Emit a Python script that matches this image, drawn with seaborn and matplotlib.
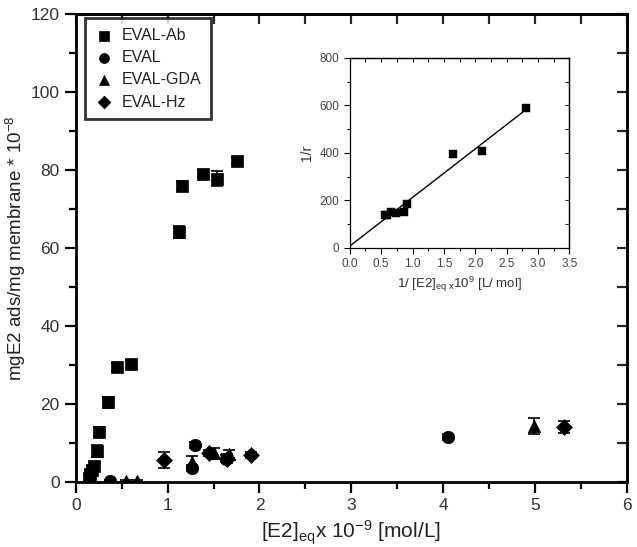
import numpy as np
import pandas as pd
import matplotlib
matplotlib.use("Agg")
import matplotlib.pyplot as plt
import seaborn as sns
from matplotlib.ticker import MultipleLocator

sns.set_theme(style="ticks")
plt.rcParams['font.family'] = ['Liberation Sans', 'DejaVu Sans']
plt.rcParams['mathtext.fontset'] = 'custom'
plt.rcParams['mathtext.rm'] = 'Liberation Sans'
plt.rcParams['mathtext.it'] = 'Liberation Sans'

# ---- main data ----
ab_x = [0.14, 0.16, 0.18, 0.20, 0.23, 0.25, 0.35, 0.45, 0.60, 1.12, 1.16, 1.38, 1.54, 1.76]
ab_y = [1.0, 2.0, 3.0, 4.0, 8.0, 12.9, 20.4, 29.4, 30.3, 64.2, 76.0, 79.0, 77.8, 82.3]
ab_e = [0.8, 0.8, 1.0, 1.0, 1.5, 1.2, 1.5, 1.0, 1.0, 1.5, 1.2, 1.0, 2.0, 0.8]

ev_x = [0.37, 1.27, 1.30, 1.64, 4.05]
ev_y = [0.3, 3.5, 9.5, 6.0, 11.5]
ev_e = [0.3, 0.8, 0.8, 1.0, 0.8]

gda_x = [0.55, 0.67, 1.27, 1.50, 1.67, 4.99]
gda_y = [0.3, 0.3, 5.2, 7.3, 7.1, 14.4]
gda_e = [0.2, 0.2, 1.5, 1.5, 1.0, 2.0]

hz_x = [0.96, 1.45, 1.65, 1.91, 5.32]
hz_y = [5.6, 7.5, 6.0, 6.9, 14.0]
hz_e = [2.0, 0.8, 1.2, 0.8, 1.5]

series_names = ["EVAL-Ab", "EVAL", "EVAL-GDA", "EVAL-Hz"]

# ---- inset data ----
inv_x = [0.56, 0.59, 0.66, 0.73, 0.86, 0.91, 1.65, 2.11, 2.80]
inv_y = [140, 140, 150, 145, 152, 184, 396, 407, 589]
fit_intercept = 7.0
fit_slope = 205.0
fit_xmax = 2.8

frames = []
for name, xs, ys in zip(series_names, [ab_x, ev_x, gda_x, hz_x], [ab_y, ev_y, gda_y, hz_y]):
    frames.append(pd.DataFrame({"x": xs, "y": ys, "series": name}))
df = pd.concat(frames, ignore_index=True)

fig = plt.figure(figsize=(6.37, 5.47), dpi=100)
ax = fig.add_axes([0.119, 0.119, 0.865, 0.855])

for xs, ys, es in [(ab_x, ab_y, ab_e), (ev_x, ev_y, ev_e), (gda_x, gda_y, gda_e), (hz_x, hz_y, hz_e)]:
    ax.errorbar(xs, ys, yerr=es, fmt="none", ecolor="black", elinewidth=1.2, capsize=4, capthick=1.2, zorder=2)

markers = {"EVAL-Ab": "s", "EVAL": "o", "EVAL-GDA": "^", "EVAL-Hz": "D"}
sizes_map = {"EVAL-Ab": 80, "EVAL": 80, "EVAL-GDA": 80, "EVAL-Hz": 65}
for name in series_names:
    sub = df[df.series == name]
    sns.scatterplot(data=sub, x="x", y="y", marker=markers[name], s=sizes_map[name],
                    color="black", edgecolor="black", linewidth=0.5, ax=ax, label=name, zorder=3)

ax.set_xlim(0, 6)
ax.set_ylim(0, 120)
ax.xaxis.set_major_locator(MultipleLocator(1))
ax.xaxis.set_minor_locator(MultipleLocator(0.5))
ax.yaxis.set_major_locator(MultipleLocator(20))
ax.yaxis.set_minor_locator(MultipleLocator(10))
for s in ax.spines.values():
    s.set_linewidth(2.0)
    s.set_color("black")
    s.set_visible(True)
ax.tick_params(which="both", direction="out", width=1.6, colors="black", labelsize=12.5)
ax.tick_params(which="major", length=8)
ax.tick_params(which="minor", length=5)
secx = ax.secondary_xaxis("top")
secx.xaxis.set_major_locator(MultipleLocator(0.5))
secx.tick_params(direction="in", length=7, width=1.6, labeltop=False)
secx.spines["top"].set_linewidth(2.0)
secy = ax.secondary_yaxis("right")
secy.yaxis.set_major_locator(MultipleLocator(10))
secy.tick_params(direction="in", length=7, width=1.6, labelright=False)
secy.spines["right"].set_linewidth(2.0)
ax.tick_params(which="both", top=False, right=False)
for lab in ax.get_xticklabels() + ax.get_yticklabels():
    lab.set_color("#333333")

ax.set_xlabel(r"[E2]$_{\mathrm{eq}}$x 10$^{\mathrm{-9}}$ [mol/L]", fontsize=15, color="#222222", labelpad=4)
ax.set_ylabel(r"mgE2 ads/mg membrane * 10$^{\mathrm{-8}}$", fontsize=13.5, color="#222222", labelpad=2)

leg = ax.legend(loc="upper left", bbox_to_anchor=(0.002, 1.008), frameon=True, fancybox=False,
                edgecolor="black", fontsize=11.5, handletextpad=0.5, borderpad=0.6,
                labelspacing=0.45, handlelength=1.2, markerscale=0.8)
leg.get_frame().set_linewidth(2.0)
for t in leg.get_texts():
    t.set_color("#222222")

# ---- inset ----
ins = fig.add_axes([0.549, 0.547, 0.345, 0.347])
sns.scatterplot(x=inv_x, y=inv_y, marker="s", s=30, color="black", edgecolor="black",
                linewidth=0.3, ax=ins, zorder=3)
fx = np.array([0.0, fit_xmax])
ins.plot(fx, fit_intercept + fit_slope * fx, color="black", linewidth=1.0, zorder=2)
ins.set_xlim(0, 3.5)
ins.set_ylim(0, 800)
ins.xaxis.set_major_locator(MultipleLocator(0.5))
ins.xaxis.set_minor_locator(MultipleLocator(0.25))
ins.yaxis.set_major_locator(MultipleLocator(200))
ins.yaxis.set_minor_locator(MultipleLocator(100))
ins.xaxis.set_major_formatter(matplotlib.ticker.FormatStrFormatter("%.1f"))
for s in ins.spines.values():
    s.set_linewidth(0.9)
    s.set_color("black")
ins.tick_params(which="both", direction="out", width=0.8, colors="black", labelsize=8.5,
                labelcolor="#444444")
ins.tick_params(which="major", length=4)
ins.tick_params(which="minor", length=2.5)
isx = ins.secondary_xaxis("top")
isx.xaxis.set_major_locator(MultipleLocator(0.25))
isx.tick_params(direction="in", length=3, width=0.8, labeltop=False)
isx.spines["top"].set_linewidth(0.9)
isy = ins.secondary_yaxis("right")
isy.yaxis.set_major_locator(MultipleLocator(100))
isy.tick_params(direction="in", length=3, width=0.8, labelright=False)
isy.spines["right"].set_linewidth(0.9)
ins.set_xlabel(r"1/ [E2]$_{\mathrm{eq\ x}}$10$^{\mathrm{9}}$ [L/ mol]", fontsize=9.5, color="#333333", labelpad=3)
ins.set_ylabel("1/r", fontsize=10, color="#333333", labelpad=4)

fig.savefig("out.png", dpi=100)
